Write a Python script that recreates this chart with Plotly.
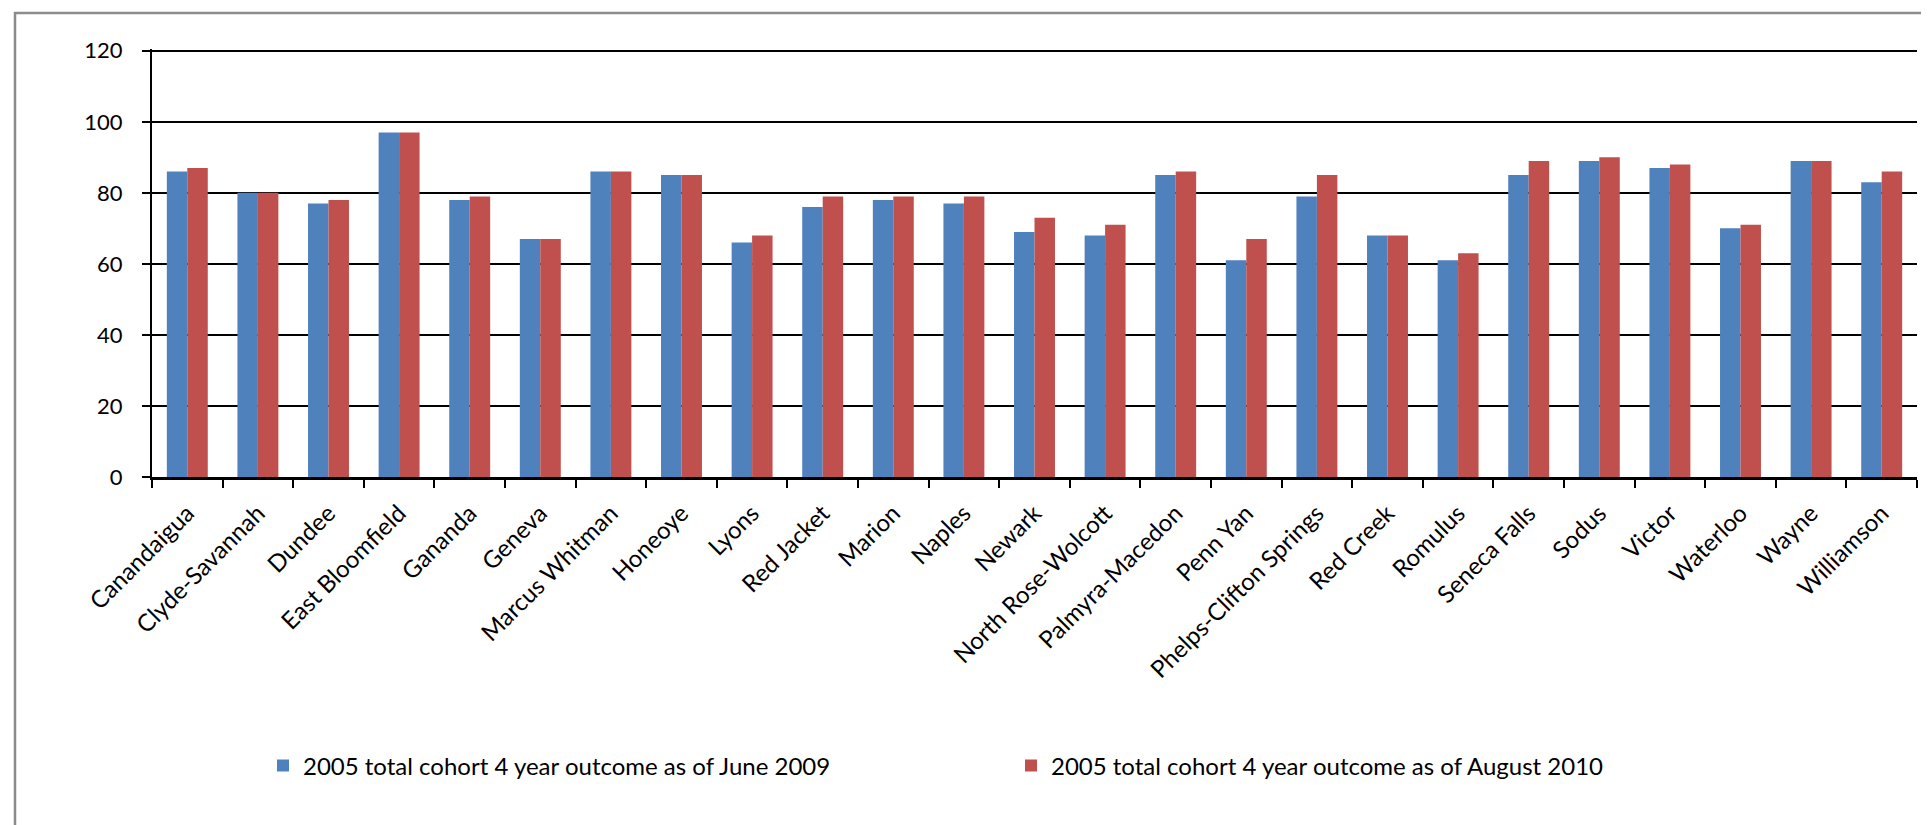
import plotly.graph_objects as go

districts = ["Canandaigua", "Clyde-Savannah", "Dundee", "East Bloomfield", "Gananda",
             "Geneva", "Marcus Whitman", "Honeoye", "Lyons", "Red Jacket", "Marion",
             "Naples", "Newark", "North Rose-Wolcott", "Palmyra-Macedon", "Penn Yan",
             "Phelps-Clifton Springs", "Red Creek", "Romulus", "Seneca Falls", "Sodus",
             "Victor", "Waterloo", "Wayne", "Williamson"]
june_2009 = [86, 80, 77, 97, 78, 67, 86, 85, 66, 76, 78, 77, 69, 68, 85, 61, 79, 68, 61, 85, 89, 87, 70, 89, 83]
august_2010 = [87, 80, 78, 97, 79, 67, 86, 85, 68, 79, 79, 79, 73, 71, 86, 67, 85, 68, 63, 89, 90, 88, 71, 89, 86]
series_names = ["2005 total cohort 4 year outcome as of June 2009",
                "2005 total cohort 4 year outcome as of August 2010"]
y_ticks = [0, 20, 40, 60, 80, 100, 120]

FONT = "Lato, 'Open Sans', sans-serif"
W, H = 1929, 825
L, R, T, B = 144, 20, 41, 356
PW = W - L - R
PH = H - T - B

def px_x(x):
    return (x - L) / PW

def px_y(y):
    return (H - B - y) / PH

fig = go.Figure()
fig.add_trace(go.Bar(x=districts, y=june_2009, name=series_names[0],
                     marker=dict(color="#4F81BD", line=dict(width=0))))
fig.add_trace(go.Bar(x=districts, y=august_2010, name=series_names[1],
                     marker=dict(color="#C0504D", line=dict(width=0))))

fig.update_layout(
    width=W, height=H,
    margin=dict(l=L, r=R, t=T, b=B),
    paper_bgcolor="white", plot_bgcolor="white",
    barmode="group", bargap=0.42, bargroupgap=0,
    font=dict(family=FONT, size=22, color="black"),
    showlegend=True,
    legend=dict(orientation="h", x=px_x(255), xanchor="left",
                y=px_y(758), yanchor="middle",
                font=dict(family=FONT, size=24, color="black"),
                entrywidth=703, entrywidthmode="pixels",
                itemwidth=30, traceorder="normal",
                bgcolor="rgba(0,0,0,0)"),
    xaxis=dict(
        type="category",
        showgrid=False,
        showline=True, linecolor="black", linewidth=2.5,
        ticks="outside", tickson="boundaries", ticklen=8, tickwidth=2, tickcolor="black",
        tickangle=-45,
        tickfont=dict(family=FONT, size=24, color="black"),
        zeroline=False,
        ticklabelstandoff=10,
    ),
    yaxis=dict(
        range=[0, 120.5],
        tickvals=y_ticks,
        ticktext=[str(v) for v in y_ticks],
        showgrid=True, gridcolor="black", gridwidth=2,
        showline=True, linecolor="black", linewidth=2,
        ticks="outside", ticklen=8, tickwidth=2, tickcolor="black",
        tickfont=dict(family=FONT, size=22, color="black"),
        zeroline=False,
        ticklabelstandoff=15,
    ),
    shapes=[dict(type="rect", xref="paper", yref="paper",
                 x0=px_x(7), x1=px_x(1923), y0=px_y(835), y1=px_y(5),
                 line=dict(color="#8c8c8c", width=2.5), fillcolor="rgba(0,0,0,0)",
                 layer="below")],
)

fig.write_html("out.html")
